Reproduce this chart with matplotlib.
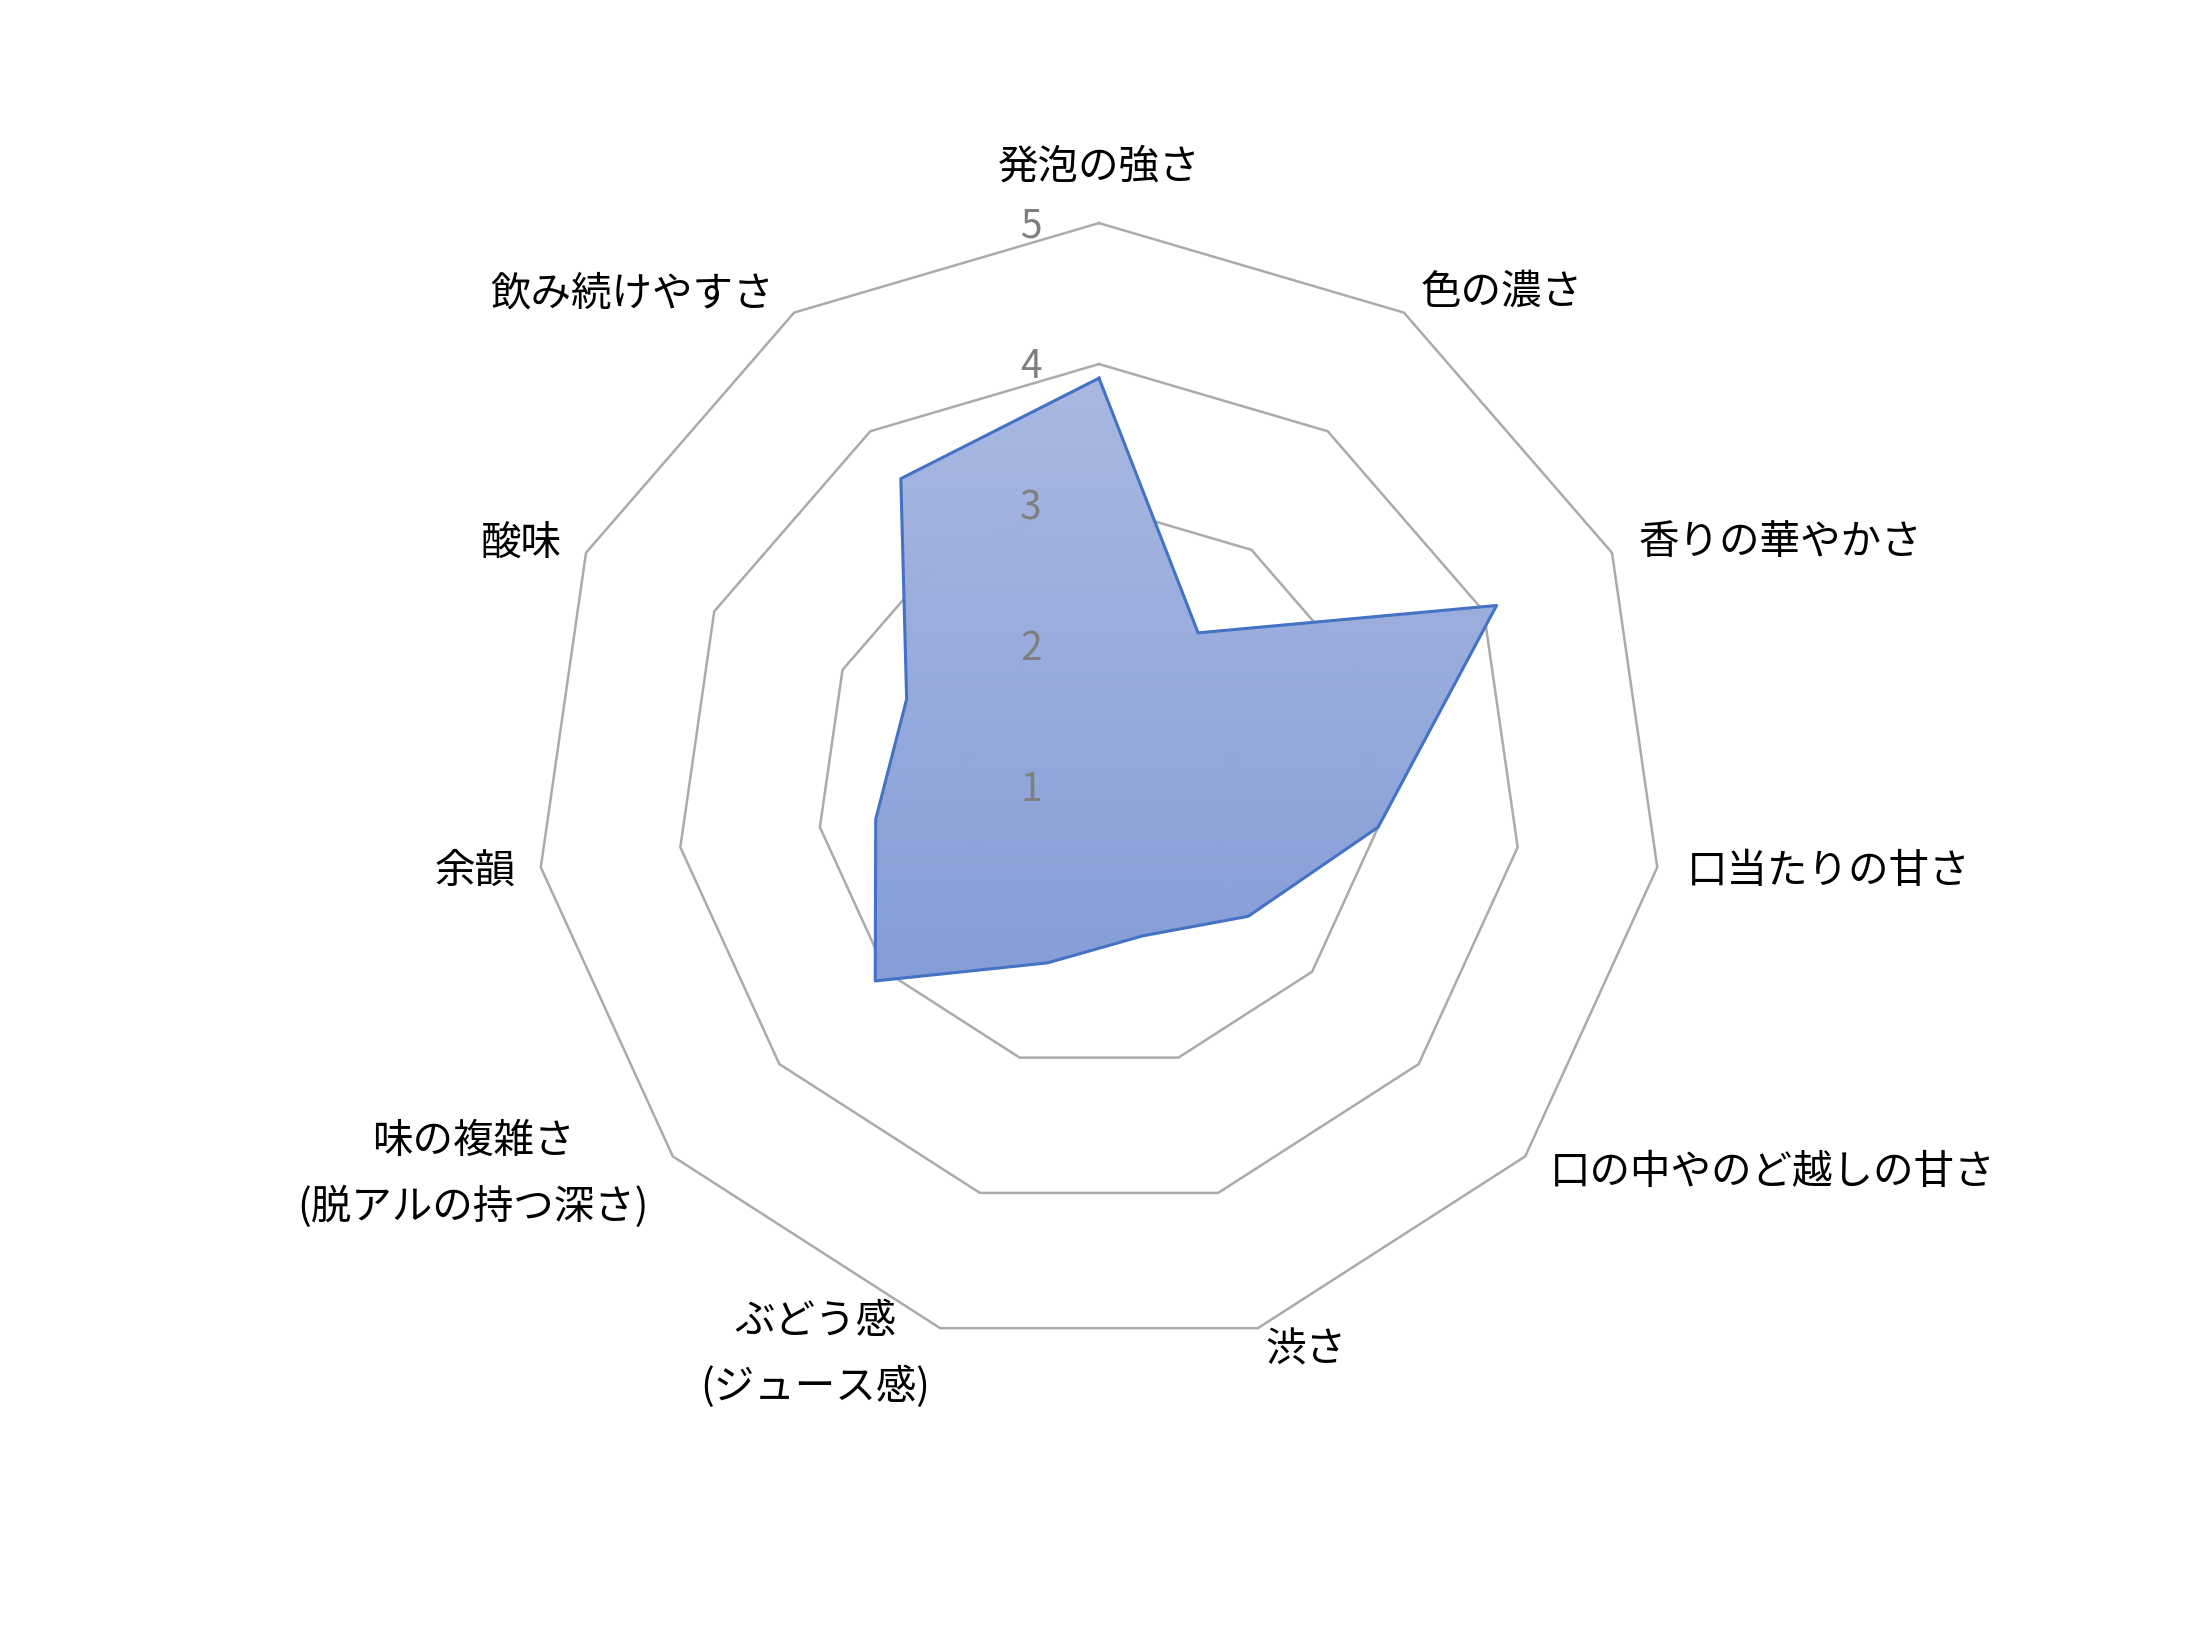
import numpy as np
import matplotlib
matplotlib.use("Agg")
import matplotlib.pyplot as plt
from matplotlib.image import BboxImage
from matplotlib.colors import LinearSegmentedColormap

plt.rcParams['font.family'] = ['Noto Sans CJK JP', 'DejaVu Sans']

categories = [
    "発泡の強さ", "色の濃さ", "香りの華やかさ", "口当たりの甘さ",
    "口の中やのど越しの甘さ", "渋さ", "ぶどう感\n(ジュース感)",
    "味の複雑さ\n(脱アルの持つ深さ)", "余韻", "酸味", "飲み続けやすさ",
]
scores = [3.9, 2.3, 4.1, 3.0, 2.4, 2.1, 2.3, 3.1, 2.6, 2.5, 3.6]
levels = [1, 2, 3, 4, 5]

# label placement relative to the outer vertex, in pixels (dx right, dy down)
label_offsets = [(0, -56), (17, -20), (27, -10), (30, 4), (25, 16), (8, 22),
                 (-10, 26), (-24, 18), (-25, 4), (-24, -9), (-20, -19)]
label_ha = ["center", "left", "left", "left", "left", "left",
            "right", "right", "right", "right", "right"]

DPI = 200
PX = 72 / DPI  # points per pixel

fig = plt.figure(figsize=(11, 8.25), dpi=DPI)
ax = fig.add_axes([0.2432, 0.1812, 0.5127, 0.6836], projection="polar")
ax.set_theta_zero_location("N")
ax.set_theta_direction(-1)
ax.set_ylim(levels[0], levels[-1])
ax.grid(False)
ax.set_xticks([])
ax.set_yticks([])
ax.spines["polar"].set_visible(False)
ax.patch.set_visible(False)

n = len(categories)
angles = np.linspace(0, 2 * np.pi, n, endpoint=False)
ang_closed = np.append(angles, angles[0])

# polygonal grid rings
for lv in levels[1:]:
    ax.plot(ang_closed, [lv] * (n + 1), color="#ababab", lw=0.9,
            zorder=1, clip_on=False)

# gradient-filled data area
vals_closed = np.append(scores, scores[0])
poly = ax.fill(angles, scores, facecolor="none", edgecolor="none", zorder=2)[0]
grad = LinearSegmentedColormap.from_list("grad", ["#aab8e1", "#859ed7"])
img = BboxImage(lambda r: poly.get_window_extent(r), cmap=grad,
                interpolation="bicubic", origin="upper", zorder=2)
img.set_data(np.linspace(0, 1, 256).reshape(-1, 1))
img.set_clip_path(poly)
ax.add_artist(img)
ax.plot(ang_closed, vals_closed, color="#4472C4", lw=1.1, zorder=3,
        clip_on=False)

# radial value labels
for lv in levels:
    ax.annotate(str(lv), xy=(0, lv), xytext=(-68 * PX, -3 * PX),
                textcoords="offset points", ha="center", va="center",
                color="#7f7f7f", fontsize=14, annotation_clip=False)

# category labels
for ang, cat, (dx, dy), ha in zip(angles, categories, label_offsets, label_ha):
    ax.annotate(cat, xy=(ang, levels[-1]), xytext=(dx * PX, -dy * PX),
                textcoords="offset points", ha=ha, va="center",
                multialignment="center", linespacing=1.7,
                fontsize=14.6, color="black", annotation_clip=False)

fig.savefig("out.png", dpi=DPI, facecolor="white")
